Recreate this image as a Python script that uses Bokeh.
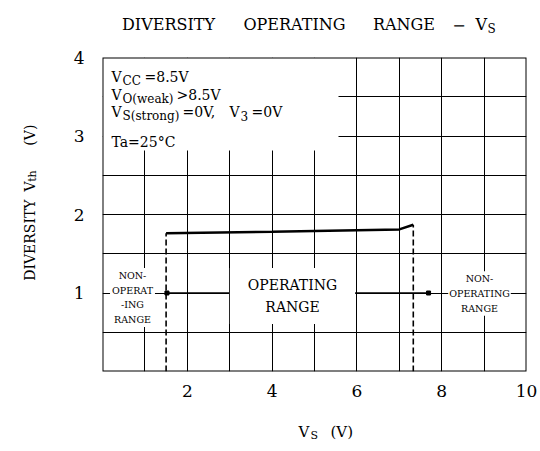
from bokeh.plotting import figure
from bokeh.models import Range1d, FixedTicker, Label, BoxAnnotation
from bokeh.layouts import column, row
from bokeh.embed import file_html
from bokeh.resources import INLINE
import math

# ---- data ----
vs_curve = [1.5, 4.0, 7.0, 7.33]          # V_S (V) along threshold curve
vth_curve = [1.76, 1.78, 1.81, 1.87]      # Diversity Vth (V)
vs_bounds = [1.5, 7.33]                   # operating range limits (V_S)
vth_bounds = [1.76, 1.87]                 # curve level at the limits
op_level = [1.0, 1.0]                     # level of the range arrows
arrow_from = [1.52, 5.92]
arrow_to = [3.0, 7.69]
arrow_tips = [1.52, 7.69]
x_ticks = [2, 4, 6, 8, 10]
y_ticks = [1, 2, 3, 4]
x_grid = [1, 2, 3, 4, 5, 6, 7, 8, 9]
y_grid = [0.5, 1.0, 1.5, 2.0, 2.5, 3.0, 3.5]

FONT = "DejaVu Serif"


def text_fig(w, h):
    f = figure(width=w, height=h, x_range=Range1d(0, w), y_range=Range1d(0, h),
               x_axis_type=None, y_axis_type=None, output_backend="svg",
               toolbar_location=None, min_border=0)
    f.outline_line_color = None
    f.background_fill_color = "white"
    f.border_fill_color = "white"
    return f


def add_text(fig, text, x, y, size, align="left", baseline="alphabetic", angle=0.0,
             bg=False, pad=None, lh=1.2):
    kw = dict(x=x, y=y, text=text, text_font=FONT,
              text_font_size=f"{size}px", text_color="black",
              text_align=align, text_baseline=baseline, angle=angle,
              text_line_height=lh)
    if bg:
        kw.update(background_fill_color="white", background_fill_alpha=1.0)
        if pad is not None:
            kw["padding"] = pad
    fig.add_layout(Label(**kw))


# ---- main chart ----
p = figure(width=500, height=368, x_range=Range1d(0, 10), y_range=Range1d(0, 4),
           output_backend="svg", toolbar_location=None,
           min_border_left=62, min_border_right=14, min_border_top=17, min_border_bottom=37)
p.background_fill_color = "white"
p.border_fill_color = "white"
p.outline_line_color = None

for ax, ticks, standoff in ((p.xaxis, x_ticks, 13), (p.yaxis, y_ticks, 18)):
    ax.ticker = FixedTicker(ticks=ticks)
    ax.axis_line_color = None
    ax.major_tick_line_color = None
    ax.minor_tick_line_color = None
    ax.major_tick_out = 0
    ax.major_tick_in = 0
    ax.major_label_standoff = standoff
    ax.major_label_text_font = FONT
    ax.major_label_text_font_size = "17px"
    ax.major_label_text_color = "black"

p.xgrid.ticker = FixedTicker(ticks=x_grid)
p.ygrid.ticker = FixedTicker(ticks=y_grid)
for g in (p.xgrid, p.ygrid):
    g.grid_line_color = "black"
    g.grid_line_alpha = 1.0
    g.grid_line_width = 1

p.line(vs_curve, vth_curve, line_color="black", line_width=2.5)
p.segment(x0=vs_bounds, y0=[0, 0], x1=vs_bounds, y1=vth_bounds,
          line_color="black", line_width=1.6, line_dash="6 3")
p.segment(x0=arrow_from, y0=op_level, x1=arrow_to, y1=op_level,
          line_color="black", line_width=1.6)
p.scatter(arrow_tips, op_level, marker="square", size=4, color="black")


# page pixel -> data coordinate for text placement inside the main frame
def X(px):
    return (px - 102) / 42.4


def Y(py):
    return (371 - py) / 78.5


def lab(text, px, py, size, **kw):
    add_text(p, text, X(px), Y(py), size, **kw)


# white panel behind the condition text (top-left)
p.add_layout(BoxAnnotation(right=X(338), bottom=Y(150), fill_color="white",
                           fill_alpha=1.0, line_alpha=0.0))

# condition text
lab("V", 111, 76, 14)
lab("CC", 122, 80, 12)
lab("=8.5V", 144, 76, 14)
lab("V", 111, 94, 14)
lab("O(weak)", 122, 98, 12)
lab(">8.5V", 176, 94, 14)
lab("V", 111, 111, 14)
lab("S(strong)", 122, 115, 12)
lab("=0V,", 182, 111, 14)
lab("V", 229, 111, 14)
lab("3", 240, 115, 12)
lab("=0V", 251, 111, 14)
lab("Ta=25°C", 111, 141, 14)

# range texts inside the plot
lab("NON-\nOPERAT\n-ING\nRANGE", 132, 297, 9.5, align="center", baseline="middle",
    bg=True, pad=dict(left=2, right=2, top=2, bottom=2), lh=1.33)
lab("OPERATING\nRANGE", 292, 295.5, 14, align="center", baseline="middle",
    bg=True, pad=dict(left=18, right=18, top=9, bottom=9), lh=1.39)
lab("NON-\nOPERATING\nRANGE", 479, 293, 9.5, align="center", baseline="middle",
    bg=True, pad=dict(left=1, right=1, top=2, bottom=2), lh=1.33)

# frame outline drawn last
p.add_layout(BoxAnnotation(fill_alpha=0.0, line_color="black", line_alpha=1.0,
                           line_width=2))

# ---- title strip (page y 0..40) ----
t = text_fig(540, 40)
for word, cx in (("DIVERSITY", 168), ("OPERATING", 294), ("RANGE", 403.5), ("\u2212", 458.5)):
    add_text(t, word, cx, 40 - 24, 16, align="center")
add_text(t, "V", 475, 40 - 24, 16)
add_text(t, "S", 487, 40 - 28, 12)

# ---- y label strip (page x 0..40, page y 40..408) ----
yl = text_fig(40, 368)
add_text(yl, "DIVERSITY", 29, 408 - 254, 14, align="center", angle=math.pi / 2)
add_text(yl, "V", 29, 408 - 191, 14, align="center", angle=math.pi / 2)
add_text(yl, "th", 32, 408 - 179, 11, align="center", angle=math.pi / 2)
add_text(yl, "(V)", 29, 408 - 131, 14, align="center", angle=math.pi / 2)

# ---- x label strip (page y 408..451) ----
xl = text_fig(540, 43)
add_text(xl, "V", 298, 451 - 431, 15)
add_text(xl, "S", 310, 451 - 435, 11)
add_text(xl, "(V)", 330, 451 - 431, 15)

layout = column(t, row(yl, p), xl)
open("out.html", "w").write(file_html(layout, INLINE))
